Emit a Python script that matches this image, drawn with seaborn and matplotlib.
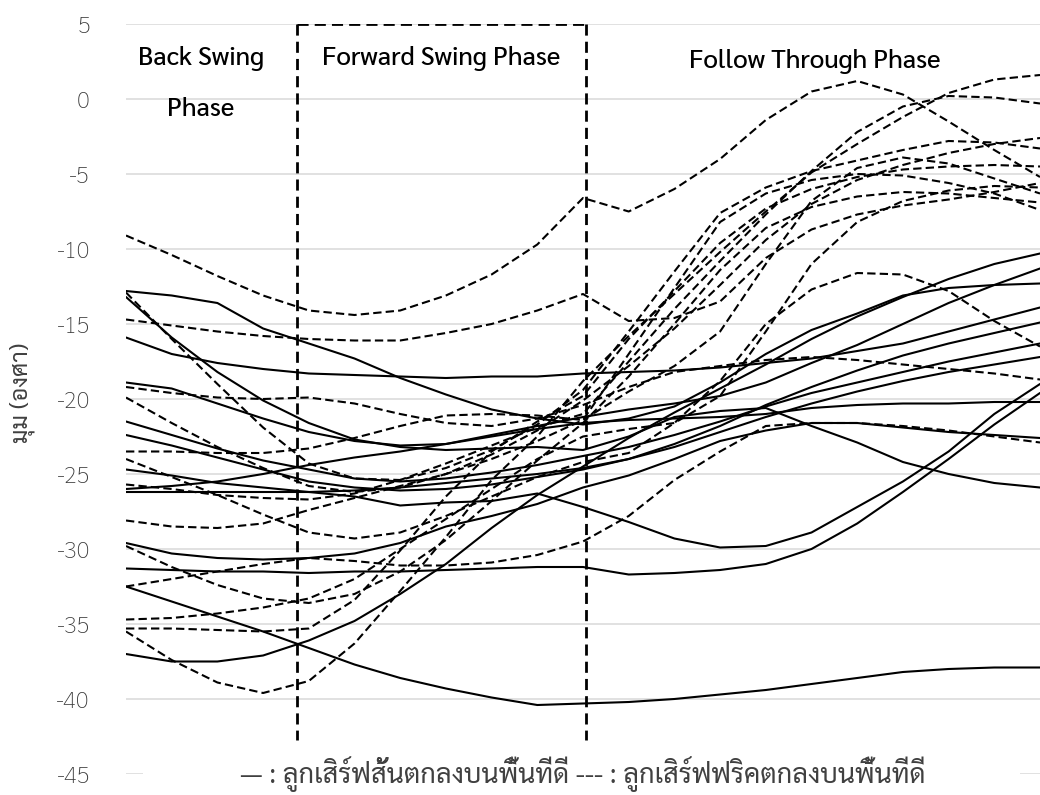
import matplotlib
matplotlib.use("Agg")
import matplotlib.pyplot as plt
from matplotlib.patches import Rectangle
import numpy as np
import pandas as pd
import seaborn as sns

# Sampled frames (every second frame of the swing, 0..40)
frames = list(range(0, 41, 2))

# Short serves landing in the good area (solid lines), angle in degrees
short_serves = {
    "S01": [-12.8, -13.1, -13.6, -15.3, -16.3, -17.3, -18.6, -19.7, -20.7, -21.3, -21.7,
            -21.3, -20.5, -18.9, -17.0, -15.4, -14.3, -13.1, -12.6, -12.4, -12.3],
    "S02": [-13.2, -15.9, -18.2, -20.1, -21.6, -22.7, -23.2, -23.4, -23.3, -23.2, -23.4,
            -22.5, -21.2, -20.8, -20.6, -21.8, -22.9, -24.2, -25.0, -25.6, -25.9],
    "S03": [-15.9, -17.0, -17.6, -18.0, -18.3, -18.4, -18.5, -18.6, -18.5, -18.5, -18.3,
            -18.2, -18.1, -17.9, -17.6, -17.3, -16.8, -16.3, -15.5, -14.7, -13.9],
    "S04": [-18.9, -19.3, -20.3, -21.3, -22.2, -22.8, -23.1, -23.0, -22.5, -22.0, -21.6,
            -21.4, -21.3, -21.2, -21.0, -20.6, -20.4, -20.3, -20.3, -20.2, -20.2],
    "S05": [-21.5, -22.4, -23.3, -24.1, -24.7, -25.3, -25.5, -25.3, -24.9, -24.4, -23.8,
            -23.2, -22.4, -21.5, -20.5, -19.6, -18.9, -18.2, -17.5, -16.9, -16.3],
    "S06": [-22.4, -23.1, -23.9, -24.7, -25.5, -25.9, -26.1, -26.0, -25.7, -25.2, -24.7,
            -24.0, -23.2, -22.2, -21.2, -20.3, -19.5, -18.8, -18.2, -17.7, -17.2],
    "S07": [-24.7, -25.1, -25.6, -25.9, -26.2, -26.5, -27.1, -26.9, -26.8, -26.3, -27.2,
            -28.2, -29.3, -29.9, -29.8, -28.9, -27.2, -25.5, -23.5, -21.0, -19.0],
    "S08": [-26.0, -25.8, -25.5, -25.0, -24.4, -23.9, -23.5, -23.0, -22.4, -21.8, -21.2,
            -20.7, -20.3, -19.8, -18.9, -17.6, -16.4, -15.0, -13.6, -12.4, -11.3],
    "S09": [-26.2, -26.2, -26.2, -26.2, -26.2, -26.1, -25.9, -25.6, -25.3, -25.0, -24.6,
            -24.0, -23.0, -21.8, -20.4, -19.2, -18.1, -17.1, -16.3, -15.6, -14.9],
    "S10": [-29.6, -30.3, -30.6, -30.7, -30.6, -30.3, -29.6, -28.5, -27.8, -27.0, -25.9,
            -25.1, -24.0, -22.8, -22.1, -21.6, -21.6, -21.9, -22.2, -22.4, -22.6],
    "S11": [-31.3, -31.4, -31.5, -31.5, -31.6, -31.5, -31.5, -31.4, -31.3, -31.2, -31.2,
            -31.7, -31.6, -31.4, -31.0, -30.0, -28.3, -26.2, -24.0, -21.7, -19.6],
    "S12": [-32.5, -33.5, -34.5, -35.5, -36.6, -37.7, -38.6, -39.3, -39.9, -40.4, -40.3,
            -40.2, -40.0, -39.7, -39.4, -39.0, -38.6, -38.2, -38.0, -37.9, -37.9],
    "S13": [-37.0, -37.5, -37.5, -37.1, -36.1, -34.8, -33.0, -31.0, -28.6, -26.4, -24.5,
            -22.6, -20.9, -19.3, -17.7, -16.0, -14.5, -13.2, -12.0, -11.0, -10.3],
}

# Flick serves landing in the good area (dashed lines), angle in degrees
flick_serves = {
    "F01": [-9.1, -10.4, -11.8, -13.1, -14.1, -14.4, -14.1, -13.1, -11.7, -9.7, -6.6,
            -7.5, -6.0, -4.0, -1.4, 0.5, 1.2, 0.3, -1.5, -3.4, -5.2],
    "F02": [-14.7, -15.1, -15.5, -15.8, -16.0, -16.1, -16.1, -15.6, -15.0, -14.1, -13.0,
            -14.8, -14.6, -13.5, -10.6, -8.7, -7.7, -7.1, -6.7, -6.2, -5.6],
    "F03": [-12.9, -16.0, -19.0, -21.9, -24.3, -25.3, -25.4, -24.6, -23.4, -21.7, -19.4,
            -15.5, -11.5, -7.6, -5.9, -4.8, -4.1, -3.4, -2.8, -2.9, -3.3],
    "F04": [-19.2, -19.6, -19.9, -20.0, -19.9, -20.3, -21.0, -21.6, -21.8, -21.3, -20.4,
            -19.2, -18.2, -17.8, -17.4, -17.2, -17.4, -17.7, -18.0, -18.3, -18.7],
    "F05": [-19.9, -21.6, -23.2, -24.6, -25.8, -26.2, -25.9, -25.0, -23.7, -22.1, -20.1,
            -17.8, -15.3, -12.4, -9.4, -7.0, -5.4, -4.4, -3.6, -3.0, -2.6],
    "F06": [-23.5, -23.5, -23.6, -23.6, -23.3, -22.6, -21.8, -21.1, -21.0, -21.1, -21.4,
            -17.0, -12.6, -8.2, -6.3, -5.4, -5.0, -5.1, -5.6, -6.3, -7.4],
    "F07": [-24.0, -25.2, -26.4, -27.7, -28.9, -29.3, -28.9, -27.8, -26.5, -25.2, -24.2,
            -23.6, -21.6, -18.8, -15.0, -12.7, -11.6, -11.7, -12.8, -14.8, -16.5],
    "F08": [-28.1, -28.5, -28.6, -28.3, -27.4, -26.6, -25.8, -25.0, -24.0, -22.8, -21.4,
            -19.5, -17.8, -15.5, -11.0, -6.8, -4.6, -3.9, -4.3, -5.3, -6.3],
    "F09": [-25.7, -26.0, -26.4, -26.6, -26.7, -26.3, -25.4, -24.3, -23.1, -21.9, -21.0,
            -17.5, -14.0, -10.8, -7.7, -4.8, -2.2, -0.5, 0.2, 0.1, -0.3],
    "F10": [-34.7, -34.6, -34.3, -33.9, -33.3, -32.0, -30.0, -28.0, -26.0, -24.0, -22.5,
            -22.0, -21.6, -19.8, -15.5, -11.0, -8.2, -6.8, -6.1, -5.8, -5.9],
    "F11": [-35.3, -35.3, -35.4, -35.5, -35.3, -33.4, -30.1, -26.5, -23.5, -21.5, -19.8,
            -16.0, -12.8, -9.6, -7.3, -6.0, -5.2, -4.7, -4.5, -4.4, -4.5],
    "F12": [-35.5, -37.4, -38.9, -39.6, -38.8, -36.3, -32.8, -29.2, -25.4, -22.5, -18.8,
            -15.8, -13.0, -10.2, -7.5, -4.9, -3.0, -1.2, 0.4, 1.3, 1.6],
    "F13": [-29.8, -31.2, -32.4, -33.3, -33.6, -33.0, -31.5, -29.4, -26.8, -24.1, -21.6,
            -18.5, -15.0, -11.4, -8.6, -7.2, -6.5, -6.2, -6.3, -6.6, -6.9],
    "F14": [-32.5, -32.0, -31.5, -31.0, -30.6, -30.8, -31.1, -31.1, -30.9, -30.4, -29.5,
            -27.8, -25.4, -23.5, -21.8, -21.6, -21.6, -21.8, -22.1, -22.5, -22.9],
}

y_ticks = [5, 0, -5, -10, -15, -20, -25, -30, -35, -40, -45]
y_label = "มุม (องศา)"
phase_labels = ["Back Swing", "Phase", "Forward Swing Phase", "Follow Through Phase"]
phase_bounds = [7.48, 20.13]
key_text = "— : ลูกเสิร์ฟสั้นตกลงบนพื้นที่ดี --- : ลูกเสิร์ฟฟริคตกลงบนพื้นที่ดี"

rows = []
for kind, group in (("short", short_serves), ("flick", flick_serves)):
    for trial, values in group.items():
        for f, v in zip(frames, values):
            rows.append({"frame": f, "angle": v, "trial": trial, "serve": kind})
df = pd.DataFrame(rows)

sns.set_style("white")
plt.rcParams["font.family"] = ["Sarabun", "DejaVu Sans"]
plt.rcParams["axes.unicode_minus"] = False

fig = plt.figure(figsize=(10.4, 7.95), dpi=100)
ax = fig.add_axes([126 / 1040, 21 / 795, 914 / 1040, 750 / 795])

sns.lineplot(
    data=df, x="frame", y="angle", units="trial", estimator=None,
    style="serve", style_order=["short", "flick"],
    dashes={"short": "", "flick": (4, 2)},
    color="black", linewidth=1.5, legend=False, ax=ax, sort=False,
)

ax.set_xlim(0, 40)
ax.set_ylim(-45, 5)
ax.set_yticks(y_ticks)
ax.set_yticklabels([str(t) for t in y_ticks])
ax.set_xticks([])
ax.set_xlabel("")
ax.set_ylabel("")
ax.grid(axis="y", color="#d9d9d9", linewidth=1.1)
ax.set_axisbelow(True)
for s in ax.spines.values():
    s.set_visible(False)
ax.tick_params(axis="y", length=0, pad=26, labelsize=17, labelcolor="#3a3a3a")
for lab in ax.get_yticklabels():
    lab.set_fontweight("light")

# white box behind the key text, hiding the bottom grid line under it
ax.add_patch(Rectangle(((143 - 126) / 914 * 40, -45.8), (1020 - 143) / 914 * 40, 1.6,
                       facecolor="white", edgecolor="none", zorder=1.5, clip_on=False))

# phase boundaries
bkw = dict(color="black", linewidth=2.0, dashes=(4, 2.2), zorder=3)
ax.plot([phase_bounds[0], phase_bounds[0]], [5, -42.7], **bkw)
ax.plot([phase_bounds[1], phase_bounds[1]], [5, -42.7], **bkw)
ax.plot([phase_bounds[0], phase_bounds[1]], [5, 5], **bkw)

tkw = dict(ha="center", va="center", fontsize=18.5, fontweight="medium", color="black")
ax.text(3.28, 2.67, phase_labels[0], **tkw)
ax.text(3.28, -0.67, phase_labels[1], **tkw)
ax.text(13.8, 2.67, phase_labels[2], **tkw)
ax.text(30.15, 2.53, phase_labels[3], **tkw)

ax.text(20.0, -45, key_text, ha="center", va="center", fontsize=19.5, color="#404040",
        zorder=4, clip_on=False)

fig.text(22 / 1040, 1 - 393 / 795, y_label, rotation=90, ha="center", va="center",
         fontsize=17, color="#404040")

fig.savefig("out.png", dpi=100)
